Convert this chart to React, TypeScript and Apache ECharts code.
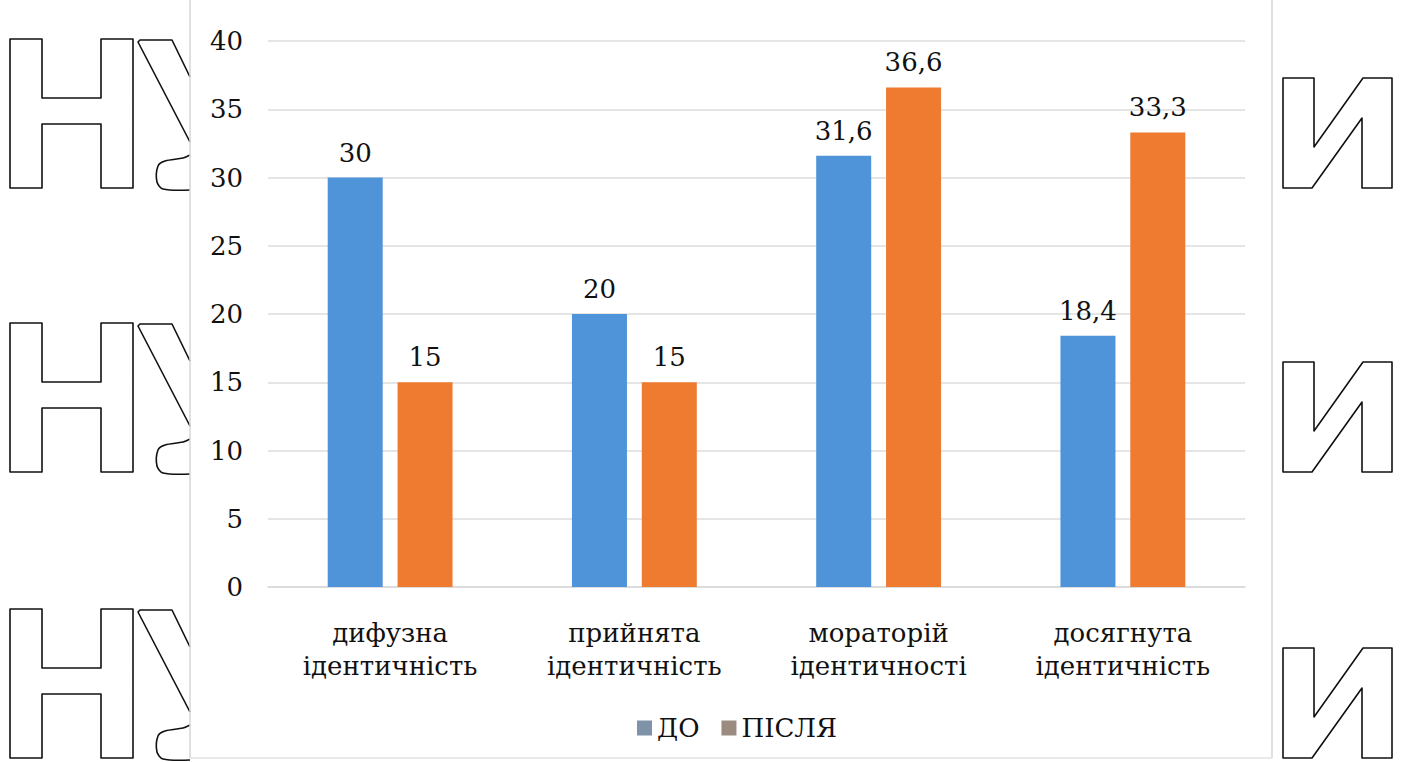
import React, { useEffect, useRef } from "react";
import * as echarts from "echarts";

const categories = ["дифузна\nідентичність", "прийнята\nідентичність", "мораторій\nідентичності", "досягнута\nідентичність"];
const seriesNames = ["ДО", "ПІСЛЯ"];
const beforeValues = [30, 20, 31.6, 18.4];
const afterValues = [15, 15, 36.6, 33.3];
const yTicks = { min: 0, max: 40, interval: 5 };

const FONT = "DejaVu Serif";
const FONT_SIZE = 26;
const BLUE = "#4f93d9";
const ORANGE = "#ee7b30";

// Outlined background letters repeated down both margins
const rowOffsets = [0, 284, 570];

function letterShapes() {
  const els: any[] = [];
  const stroke = { fill: "none", stroke: "#111", lineWidth: 1.6, lineJoin: "round" };
  rowOffsets.forEach((dy) => {
    // Н
    els.push({
      type: "polygon",
      silent: true,
      shape: {
        points: [
          [10, 39], [42, 39], [42, 98], [101, 98], [101, 39], [133, 39],
          [133, 188], [101, 188], [101, 124], [42, 124], [42, 188], [10, 188],
        ].map(([x, y]) => [x, y + dy]),
      },
      style: stroke,
    });
    // У (cut off by the chart panel)
    els.push({
      type: "polyline",
      silent: true,
      shape: { points: [[190, 142], [138, 42], [140, 40], [172, 40], [190, 77]].map(([x, y]) => [x, y + dy]) },
      style: stroke,
    });
    els.push({
      type: "polyline",
      silent: true,
      shape: {
        points: [[190, 155], [183, 158], [165, 161], [158, 166], [157, 182], [163, 189], [190, 190]].map(([x, y]) => [x, y + dy]),
        smooth: 0.3,
      },
      style: stroke,
    });
    // И
    els.push({
      type: "polygon",
      silent: true,
      shape: {
        points: [
          [1283, 78], [1314, 78], [1314, 147], [1363, 78], [1392, 78],
          [1392, 188], [1362, 188], [1362, 118], [1312, 188], [1283, 188],
        ].map(([x, y]) => [x, y + dy]),
      },
      style: stroke,
    });
  });
  // chart panel edges
  els.push({ type: "line", silent: true, shape: { x1: 190, y1: 0, x2: 190, y2: 758 }, style: { stroke: "#d6d6d6", lineWidth: 1.5 } });
  els.push({ type: "line", silent: true, shape: { x1: 1272, y1: 0, x2: 1272, y2: 758 }, style: { stroke: "#d6d6d6", lineWidth: 1.5 } });
  els.push({ type: "line", silent: true, shape: { x1: 190, y1: 758, x2: 1272, y2: 758 }, style: { stroke: "#e2e2e2", lineWidth: 1.5 } });
  return els;
}

export default function App() {
  const ref = useRef<HTMLDivElement>(null);

  useEffect(() => {
    document.body.style.margin = "0";
    const chart = echarts.init(ref.current!, null, { renderer: "svg" });
    const labelStyle = {
      show: true,
      position: "top" as const,
      distance: 12,
      fontFamily: FONT,
      fontSize: FONT_SIZE,
      color: "#111",
      formatter: (p: any) => String(p.value).replace(".", ","),
    };
    chart.setOption({
      animation: false,
      backgroundColor: "#ffffff",
      textStyle: { fontFamily: FONT },
      graphic: letterShapes(),
      grid: { left: 268, right: 160, top: 41, bottom: 175 },
      legend: {
        left: 632,
        top: 710,
        itemWidth: 15,
        itemHeight: 15,
        itemGap: 22,
        icon: "rect",
        textStyle: { fontFamily: FONT, fontSize: FONT_SIZE, color: "#111" },
        data: [
          { name: seriesNames[0], itemStyle: { color: "#7e93a7" } },
          { name: seriesNames[1], itemStyle: { color: "#9b8b80" } },
        ],
      },
      xAxis: {
        type: "category",
        data: categories,
        axisTick: { show: false },
        axisLine: { lineStyle: { color: "#d9d9d9", width: 1.5 } },
        axisLabel: { fontFamily: FONT, fontSize: FONT_SIZE, color: "#111", lineHeight: 33, margin: 29 },
      },
      yAxis: {
        type: "value",
        min: yTicks.min,
        max: yTicks.max,
        interval: yTicks.interval,
        axisLine: { show: false },
        axisTick: { show: false },
        splitLine: { lineStyle: { color: "#dcdcdc", width: 1.5 } },
        axisLabel: { fontFamily: FONT, fontSize: FONT_SIZE, color: "#111", margin: 25 },
      },
      series: [
        {
          name: seriesNames[0],
          type: "bar",
          data: beforeValues,
          barWidth: 55,
          barGap: "27%",
          itemStyle: { color: BLUE },
          label: labelStyle,
        },
        {
          name: seriesNames[1],
          type: "bar",
          data: afterValues,
          barWidth: 55,
          barGap: "27%",
          itemStyle: { color: ORANGE },
          label: labelStyle,
        },
      ],
    });
    return () => chart.dispose();
  }, []);

  return <div ref={ref} style={{ position: "fixed", left: 0, top: 0, width: 1405, height: 762 }} />;
}
